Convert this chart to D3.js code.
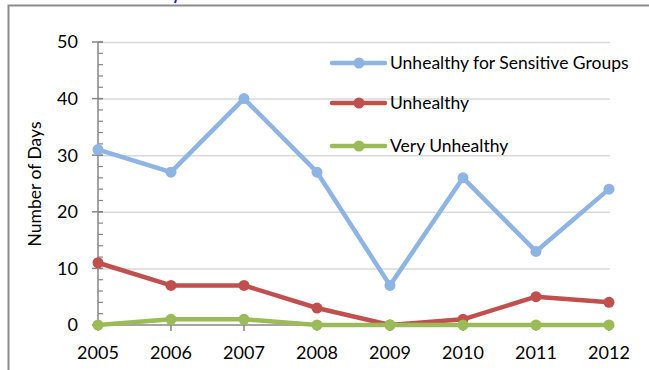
<!DOCTYPE html>
<html><head><meta charset="utf-8">
<script src="https://cdn.jsdelivr.net/npm/d3@7"></script>
<style>body{margin:0;background:#fff;} svg{display:block;font-family:Lato, "Open Sans", sans-serif;}</style>
</head><body><svg id="c" width="649" height="370"></svg>
<script>
const years = ["2005","2006","2007","2008","2009","2010","2011","2012"];
const usg = [31, 27, 40, 27, 7, 26, 13, 24];
const unhealthy = [11, 7, 7, 3, 0, 1, 5, 4];
const veryUnhealthy = [0, 1, 1, 0, 0, 0, 0, 0];
const yTicks = [0, 10, 20, 30, 40, 50];
const seriesNames = ["Unhealthy for Sensitive Groups", "Unhealthy", "Very Unhealthy"];
const colors = ["#8DB4E2", "#C0504D", "#9BBB59"];

const svg = d3.select("#c");
const x = d3.scalePoint().domain(years).range([98, 609]);
const y = d3.scaleLinear().domain([0, 50]).range([325, 42]);

// outer border
svg.append("path").attr("d", "M8.5,372 V5.5 H652").attr("fill","none").attr("stroke","#8c8c8c").attr("stroke-width",2);
// cut-off title fragment
svg.append("path").attr("d","M176,0 L175,3").attr("stroke","#1a1aff").attr("stroke-width",2);

// gridlines
svg.append("g").selectAll("line").data(yTicks.filter(d=>d>0)).join("line")
  .attr("x1", 98).attr("x2", 610).attr("y1", d=>y(d)+0.5).attr("y2", d=>y(d)+0.5)
  .attr("stroke","#d9d9d9").attr("stroke-width",1.5);

// y axis
const yAxis = svg.append("g").attr("transform","translate(98,0)");
yAxis.append("line").attr("x1",0).attr("x2",0).attr("y1",y(50)).attr("y2",y(0)).attr("stroke","#868686").attr("stroke-width",1.5);
yAxis.selectAll("line.minor").data(d3.range(0,51,2)).join("line").attr("class","minor")
  .attr("x1",0).attr("x2",5).attr("y1",d=>y(d)).attr("y2",d=>y(d)).attr("stroke","#868686").attr("stroke-width",1.2);
yAxis.selectAll("line.major").data(yTicks).join("line").attr("class","major")
  .attr("x1",-6).attr("x2",5).attr("y1",d=>y(d)).attr("y2",d=>y(d)).attr("stroke","#868686").attr("stroke-width",1.5);
yAxis.selectAll("text").data(yTicks).join("text")
  .attr("x",-20).attr("y",d=>y(d)).attr("dy","0.35em").attr("text-anchor","end")
  .attr("font-size",18).attr("fill","#000").text(d=>d);

// x axis
const xAxis = svg.append("g");
xAxis.append("line").attr("x1",98).attr("x2",610).attr("y1",y(0)).attr("y2",y(0)).attr("stroke","#868686").attr("stroke-width",1.5);
xAxis.selectAll("line.t").data(years).join("line").attr("class","t")
  .attr("x1",d=>x(d)).attr("x2",d=>x(d)).attr("y1",y(0)).attr("y2",y(0)+6).attr("stroke","#868686").attr("stroke-width",1.5);
xAxis.selectAll("text").data(years).join("text")
  .attr("x",d=>x(d)).attr("y",359).attr("text-anchor","middle")
  .attr("font-size",18).attr("fill","#000").text(d=>d);

// y label
svg.append("text").attr("transform","translate(41,184) rotate(-90)").attr("text-anchor","middle")
  .attr("font-size",17.5).attr("fill","#000").text("Number of Days");

// series
const all = [usg, unhealthy, veryUnhealthy];
const line = d3.line().x((d,i)=>x(years[i])).y(d=>y(d));
all.forEach((vals, k) => {
  const g = svg.append("g");
  g.append("path").attr("d", line(vals)).attr("fill","none").attr("stroke",colors[k]).attr("stroke-width",4.5).attr("stroke-linejoin","round");
  g.selectAll("circle").data(vals).join("circle").attr("cx",(d,i)=>x(years[i])).attr("cy",d=>y(d)).attr("r",5.5).attr("fill",colors[k]);
});

// legend
const legY = [63, 103, 146];
seriesNames.forEach((name, k) => {
  const g = svg.append("g").attr("transform", `translate(0,${legY[k]})`);
  g.append("line").attr("x1",332).attr("x2",385).attr("y1",0).attr("y2",0).attr("stroke",colors[k]).attr("stroke-width",4.5).attr("stroke-linecap","round");
  g.append("circle").attr("cx",359).attr("cy",0).attr("r",5.5).attr("fill",colors[k]);
  g.append("text").attr("x",390).attr("y",0).attr("dy","0.35em").attr("font-size",17.5).attr("fill","#000").text(name);
});
</script></body></html>
